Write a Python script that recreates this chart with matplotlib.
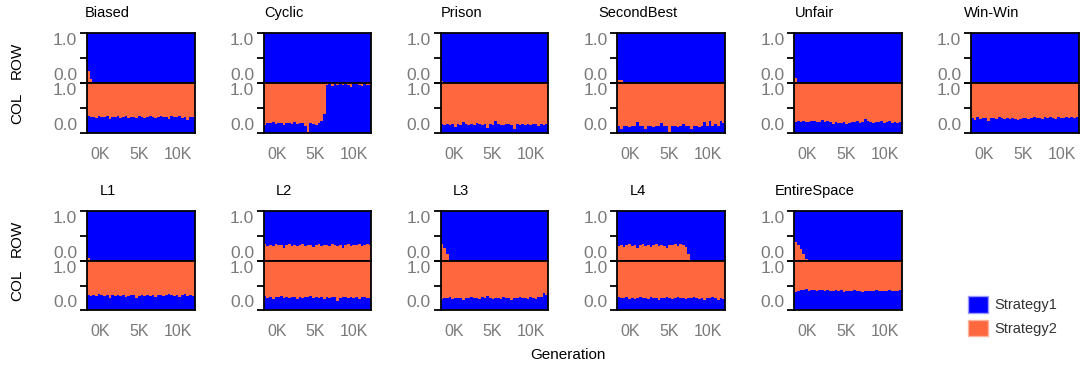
import numpy as np
import matplotlib
matplotlib.use("Agg")
import matplotlib.pyplot as plt
from matplotlib.patches import Patch

plt.rcParams['font.family'] = ['Liberation Sans', 'DejaVu Sans']

# --- data: share of Strategy2 in ROW population, share of Strategy1 in COL population ---
games = ['Biased', 'Cyclic', 'Prison', 'SecondBest', 'Unfair', 'Win-Win',
         'L1', 'L2', 'L3', 'L4', 'EntireSpace']

GEN_MIN, GEN_MAX = -1.7, 12.2   # thousands of generations shown on the axis
xtick_pos = [0, 5, 10]
xtick_labels = ['0K', '5K', '10K']

row_s2 = {
    'Biased': [0.24, 0.08, 0, 0, 0, 0, 0, 0, 0, 0, 0, 0, 0, 0, 0, 0, 0, 0, 0, 0,
               0, 0, 0, 0, 0, 0, 0, 0, 0, 0, 0, 0, 0, 0, 0, 0, 0, 0, 0, 0],
    'Cyclic': [0, 0, 0, 0, 0, 0, 0, 0, 0, 0, 0, 0, 0, 0, 0, 0, 0, 0, 0, 0,
               0, 0, 0, 0, 0, 0, 0, 0, 0, 0, 0, 0, 0, 0, 0, 0, 0, 0, 0, 0],
    'Prison': [0.04, 0, 0, 0, 0, 0, 0, 0, 0, 0, 0, 0, 0, 0, 0, 0, 0, 0, 0, 0,
               0, 0, 0, 0, 0, 0, 0, 0, 0, 0, 0, 0, 0, 0, 0, 0, 0, 0, 0, 0],
    'SecondBest': [0.06, 0.06, 0, 0, 0, 0, 0, 0, 0, 0, 0, 0, 0, 0, 0, 0, 0, 0, 0, 0,
                   0, 0, 0, 0, 0, 0, 0, 0, 0, 0, 0, 0, 0, 0, 0, 0, 0, 0, 0, 0],
    'Unfair': [0.10, 0, 0, 0, 0, 0, 0, 0, 0, 0, 0, 0, 0, 0, 0, 0, 0, 0, 0, 0,
               0, 0, 0, 0, 0, 0, 0, 0, 0, 0, 0, 0, 0, 0, 0, 0, 0, 0, 0, 0],
    'Win-Win': [0.03, 0, 0, 0, 0, 0, 0, 0, 0, 0, 0, 0, 0, 0, 0, 0, 0, 0, 0, 0,
                0, 0, 0, 0, 0, 0, 0, 0, 0, 0, 0, 0, 0, 0, 0, 0, 0, 0, 0, 0],
    'L1': [0.07, 0, 0, 0, 0, 0, 0, 0, 0, 0, 0, 0, 0, 0, 0, 0, 0, 0, 0, 0,
           0, 0, 0, 0, 0, 0, 0, 0, 0, 0, 0, 0, 0, 0, 0, 0, 0, 0, 0, 0],
    'L2': [0.34, 0.31, 0.33, 0.30, 0.35, 0.32, 0.33, 0.27, 0.32, 0.34,
           0.31, 0.33, 0.30, 0.32, 0.34, 0.31, 0.33, 0.32, 0.29, 0.33,
           0.34, 0.31, 0.32, 0.33, 0.30, 0.34, 0.32, 0.31, 0.33, 0.26,
           0.32, 0.34, 0.31, 0.33, 0.32, 0.34, 0.31, 0.33, 0.34, 0.32],
    'L3': [0.35, 0.27, 0.15, 0, 0, 0, 0, 0, 0, 0, 0, 0, 0, 0, 0, 0, 0, 0, 0, 0,
           0, 0, 0, 0, 0, 0, 0, 0, 0, 0, 0, 0, 0, 0, 0, 0, 0, 0, 0, 0],
    'L4': [0.31, 0.33, 0.28, 0.32, 0.34, 0.30, 0.33, 0.27, 0.32, 0.34,
           0.31, 0.33, 0.29, 0.32, 0.34, 0.31, 0.33, 0.30, 0.27, 0.33,
           0.32, 0.35, 0.31, 0.34, 0.33, 0.28, 0.15, 0, 0, 0,
           0, 0, 0, 0, 0, 0, 0, 0, 0, 0],
    'EntireSpace': [0.38, 0.32, 0.24, 0.14, 0.05, 0, 0, 0, 0, 0, 0, 0, 0, 0, 0, 0, 0, 0, 0, 0,
                    0, 0, 0, 0, 0, 0, 0, 0, 0, 0, 0, 0, 0, 0, 0, 0, 0, 0, 0, 0],
}

col_s1 = {
    'Biased': [0.34, 0.32, 0.33, 0.31, 0.34, 0.33, 0.32, 0.34, 0.29, 0.33,
               0.32, 0.34, 0.31, 0.33, 0.34, 0.30, 0.32, 0.33, 0.31, 0.34,
               0.32, 0.30, 0.33, 0.34, 0.32, 0.31, 0.33, 0.34, 0.32, 0.33,
               0.29, 0.34, 0.33, 0.32, 0.34, 0.31, 0.33, 0.27, 0.32, 0.33],
    'Cyclic': [0.17, 0.21, 0.20, 0.22, 0.18, 0.21, 0.20, 0.16, 0.21, 0.20,
               0.19, 0.22, 0.18, 0.20, 0.21, 0.15, 0.02, 0.21, 0.19, 0.17,
               0.20, 0.25, 0.38, 0.97, 0.98, 0.94, 0.98, 0.97, 0.99, 0.96,
               0.98, 0.97, 0.93, 0.98, 0.99, 0.97, 0.95, 0.98, 0.97, 0.96],
    'Prison': [0.18, 0.16, 0.18, 0.17, 0.18, 0.12, 0.18, 0.17, 0.22, 0.18,
               0.16, 0.18, 0.17, 0.20, 0.18, 0.17, 0.18, 0.10, 0.18, 0.17,
               0.24, 0.18, 0.17, 0.16, 0.18, 0.19, 0.17, 0.09, 0.18, 0.17,
               0.18, 0.16, 0.18, 0.17, 0.18, 0.18, 0.15, 0.18, 0.17, 0.18],
    'SecondBest': [0.14, 0.08, 0.14, 0.14, 0.13, 0.14, 0.14, 0.22, 0.14, 0.14,
                   0.08, 0.14, 0.14, 0.13, 0.14, 0.14, 0.20, 0.14, 0.14, 0.03,
                   0.14, 0.14, 0.13, 0.14, 0.18, 0.14, 0.14, 0.08, 0.14, 0.14,
                   0.13, 0.14, 0.22, 0.14, 0.25, 0.14, 0.18, 0.14, 0.24, 0.20],
    'Unfair': [0.22, 0.25, 0.23, 0.24, 0.22, 0.23, 0.25, 0.24, 0.23, 0.22,
               0.26, 0.23, 0.24, 0.22, 0.18, 0.23, 0.21, 0.20, 0.22, 0.19,
               0.20, 0.22, 0.23, 0.24, 0.20, 0.22, 0.28, 0.24, 0.22, 0.21,
               0.23, 0.22, 0.24, 0.21, 0.23, 0.25, 0.20, 0.22, 0.21, 0.22],
    'Win-Win': [0.30, 0.27, 0.32, 0.29, 0.31, 0.30, 0.24, 0.31, 0.30, 0.29,
                0.32, 0.30, 0.28, 0.31, 0.29, 0.30, 0.28, 0.27, 0.29, 0.31,
                0.30, 0.28, 0.30, 0.32, 0.30, 0.31, 0.29, 0.32, 0.30, 0.33,
                0.31, 0.29, 0.32, 0.30, 0.31, 0.33, 0.30, 0.32, 0.31, 0.33],
    'L1': [0.30, 0.28, 0.31, 0.29, 0.32, 0.30, 0.28, 0.31, 0.25, 0.30,
           0.29, 0.31, 0.28, 0.30, 0.27, 0.29, 0.31, 0.30, 0.24, 0.29,
           0.30, 0.28, 0.31, 0.29, 0.30, 0.26, 0.30, 0.31, 0.29, 0.30,
           0.32, 0.30, 0.29, 0.31, 0.27, 0.30, 0.32, 0.29, 0.30, 0.28],
    'L2': [0.28, 0.25, 0.27, 0.23, 0.27, 0.26, 0.28, 0.24, 0.27, 0.25,
           0.27, 0.26, 0.23, 0.27, 0.25, 0.27, 0.26, 0.28, 0.24, 0.27,
           0.25, 0.26, 0.22, 0.27, 0.25, 0.27, 0.26, 0.18, 0.25, 0.27,
           0.26, 0.24, 0.27, 0.25, 0.27, 0.22, 0.26, 0.27, 0.25, 0.24],
    'L3': [0.22, 0.25, 0.24, 0.26, 0.23, 0.25, 0.24, 0.25, 0.21, 0.24,
           0.25, 0.26, 0.24, 0.25, 0.23, 0.26, 0.24, 0.28, 0.25, 0.22,
           0.24, 0.25, 0.23, 0.26, 0.25, 0.24, 0.21, 0.25, 0.24, 0.26,
           0.25, 0.24, 0.23, 0.26, 0.25, 0.23, 0.27, 0.26, 0.34, 0.30],
    'L4': [0.26, 0.24, 0.25, 0.27, 0.23, 0.25, 0.22, 0.25, 0.27, 0.24,
           0.25, 0.23, 0.26, 0.24, 0.25, 0.21, 0.25, 0.24, 0.26, 0.25,
           0.23, 0.25, 0.27, 0.24, 0.25, 0.22, 0.25, 0.24, 0.26, 0.25,
           0.23, 0.25, 0.20, 0.25, 0.24, 0.26, 0.25, 0.20, 0.24, 0.23],
    'EntireSpace': [0.37, 0.38, 0.41, 0.40, 0.42, 0.39, 0.41, 0.40, 0.39, 0.40,
                    0.41, 0.39, 0.40, 0.39, 0.38, 0.40, 0.39, 0.40, 0.37, 0.39,
                    0.38, 0.39, 0.40, 0.38, 0.39, 0.37, 0.39, 0.38, 0.39, 0.38,
                    0.40, 0.38, 0.39, 0.38, 0.39, 0.40, 0.38, 0.39, 0.38, 0.41],
}

BLUE = '#0000FF'
ORANGE = '#FF683F'
GREY = '#7a7a7a'

W, H = 1081, 370
fig = plt.figure(figsize=(W / 100, H / 100), dpi=100)


def add_ax(left, top, width, height):
    return fig.add_axes([left / W, 1 - (top + height) / H, width / W, height / H])


def style_ax(ax, show_x):
    ax.set_xlim(GEN_MIN, GEN_MAX)
    ax.set_ylim(0, 1)
    for sp in ax.spines.values():
        sp.set_linewidth(1.3)
        sp.set_color('black')
    ax.set_yticks([0, 0.5, 1.0], ['0.0', '', '1.0'])
    ax.tick_params(axis='y', length=5, width=1.3, pad=2, labelsize=12.5, labelcolor=GREY)
    ticks = ax.yaxis.get_major_ticks()
    ticks[0].label1.set_va('bottom')
    ticks[2].label1.set_va('top')
    if show_x:
        ax.set_xticks(xtick_pos, xtick_labels)
        ax.tick_params(axis='x', length=0, pad=10, labelsize=11.5, labelcolor=GREY)
    else:
        ax.set_xticks([])


def draw(ax, bottom_vals, bottom_color, top_color):
    vals = np.asarray(bottom_vals, dtype=float)
    edges = np.linspace(GEN_MIN, GEN_MAX, len(vals) + 1)
    ax.stairs(vals, edges, baseline=0, fill=True, color=bottom_color, lw=0)
    ax.stairs(np.ones_like(vals), edges, baseline=vals, fill=True, color=top_color, lw=0)


lefts = [87 + i * 176.8 for i in range(6)]
row_tops = [33, 211]
sub_h = [(50, 50), (50, 49)]

for k, g in enumerate(games):
    r, c = divmod(k, 6)
    left = lefts[c]
    top = row_tops[r]
    h1, h2 = sub_h[r]
    ax_row = add_ax(left, top, 107.5, h1)
    ax_col = add_ax(left, top + h1, 107.5, h2)
    # ROW: Strategy2 stacked at bottom; COL: Strategy1 stacked at bottom
    draw(ax_row, row_s2[g], ORANGE, BLUE)
    draw(ax_col, col_s1[g], BLUE, ORANGE)
    style_ax(ax_row, False)
    style_ax(ax_col, True)
    fig.text((left + 20.5) / W, 1 - (top - 20) / H, g, ha='center', va='center',
             fontsize=10.5, color='black')
    if c == 0:
        fig.text(17 / W, 1 - (top + h1 / 2 + 2) / H, 'ROW', rotation=90,
                 ha='center', va='center', fontsize=11, color='black')
        fig.text(17 / W, 1 - (top + h1 + h2 / 2) / H, 'COL', rotation=90,
                 ha='center', va='center', fontsize=11, color='black')

fig.text(567.5 / W, 1 - 355 / H, 'Generation', ha='center', va='center',
         fontsize=11, color='black')

handles = [Patch(facecolor=BLUE, edgecolor='#9a9aff', label='Strategy1'),
           Patch(facecolor=ORANGE, edgecolor='#ffb39e', label='Strategy2')]
fig.legend(handles=handles, loc='upper left', bbox_to_anchor=(968 / W, 1 - 296 / H),
           frameon=False, borderpad=0, borderaxespad=0, handlelength=1.37,
           handleheight=1.37, handletextpad=0.45, labelspacing=0.5,
           fontsize=10.5, labelcolor='#333333')

fig.savefig('out.png', dpi=100)
